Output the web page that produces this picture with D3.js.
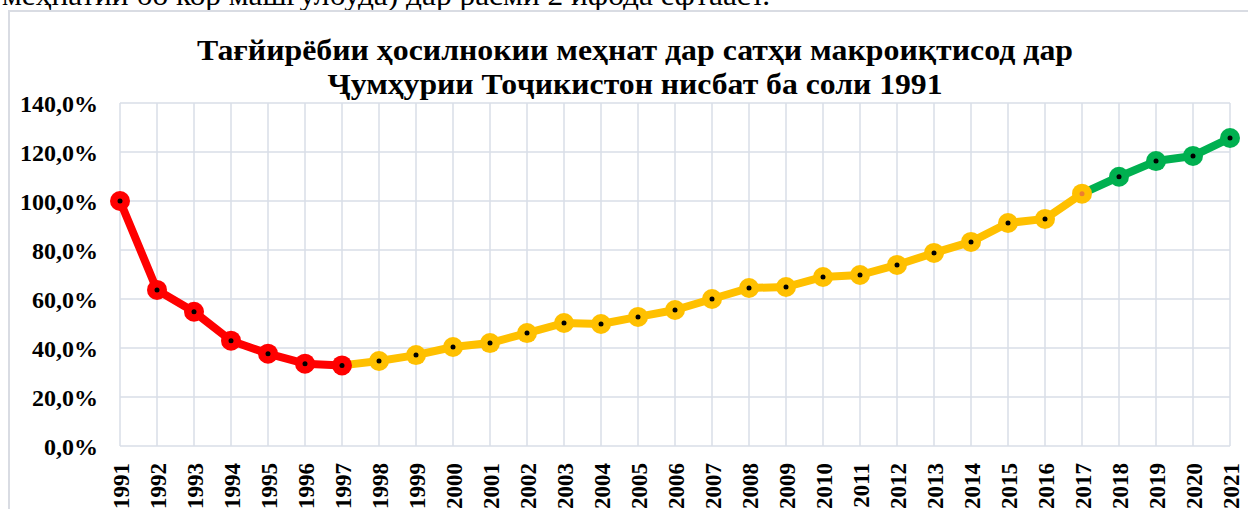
<!DOCTYPE html>
<html><head><meta charset="utf-8">
<script src="https://cdn.jsdelivr.net/npm/d3@7"></script>
<style>html,body{margin:0;padding:0;background:#fff;overflow:hidden} text{font-family:"Liberation Serif","Times New Roman",serif}</style>
</head><body>
<svg id="c" width="1248" height="509"></svg>
<script>
const years = [1991,1992,1993,1994,1995,1996,1997,1998,1999,2000,2001,2002,2003,2004,2005,2006,2007,2008,2009,2010,2011,2012,2013,2014,2015,2016,2017,2018,2019,2020,2021];
const values = [100.0,63.7,54.8,43.0,37.7,33.6,32.9,34.7,37.1,40.4,42.0,46.1,50.2,49.8,52.7,55.5,60.0,64.5,64.9,69.0,69.8,73.9,78.8,83.3,91.0,92.7,103.0,109.9,116.3,118.4,125.7];
const yTicks = [0,20,40,60,80,100,120,140];
const titleLines = ["Тағйирёбии ҳосилнокии меҳнат дар сатҳи макроиқтисод дар","Ҷумҳурии Тоҷикистон нисбат ба соли 1991"];
const topText = "меҳнатии бо кор машғулбуда) дар расми 2 ифода ёфтааст.";
// phase boundaries
const phaseStart = [1991,1997,2017];
const phaseEnd = [1997,2017,2021];
const phaseColor = ["#FF0000","#FFC000","#00B050"];

const svg = d3.select("#c");
const x = d3.scalePoint().domain(years).range([120,1230]);
const y = d3.scaleLinear().domain([0,140]).range([446,103]);
const data = years.map((yr,i)=>({yr, v: values[i]}));
const grid = "#D9DEE7";

// top partial text
svg.append("text").attr("x",2).attr("y",5).attr("font-size",30)
  .attr("textLength",768).attr("lengthAdjust","spacingAndGlyphs").attr("fill","#000").text(topText);
// chart outer border
svg.append("rect").attr("x",9).attr("y",11).attr("width",1260).attr("height",520)
  .attr("fill","#fff").attr("stroke","#D9DCE3").attr("stroke-width",2);

// title
svg.append("text").attr("x",635).attr("y",60).attr("text-anchor","middle")
  .attr("font-weight","bold").attr("font-size",29).attr("textLength",876).attr("lengthAdjust","spacingAndGlyphs").text(titleLines[0]);
svg.append("text").attr("x",635).attr("y",94).attr("text-anchor","middle")
  .attr("font-weight","bold").attr("font-size",29).attr("textLength",615).attr("lengthAdjust","spacingAndGlyphs").text(titleLines[1]);

// gridlines
svg.append("g").selectAll("line").data(yTicks).join("line")
  .attr("x1",120).attr("x2",1230).attr("y1",d=>y(d)).attr("y2",d=>y(d))
  .attr("stroke",grid).attr("stroke-width",1.5);
svg.append("g").selectAll("line").data(years).join("line")
  .attr("x1",d=>x(d)).attr("x2",d=>x(d)).attr("y1",y(0)).attr("y2",y(140))
  .attr("stroke",grid).attr("stroke-width",1.5);

// y axis labels
const yAxis = d3.axisLeft(y).tickValues(yTicks).tickSize(0).tickPadding(0)
  .tickFormat(d=>d3.format(".1f")(d).replace(".",",")+"%");
const gy = svg.append("g").attr("transform","translate(98,0)").call(yAxis);
gy.select(".domain").remove();
gy.attr("font-family",null);
gy.selectAll("text").attr("font-weight","bold").attr("font-size",24).attr("fill","#000")
  .attr("dy","0.35em").attr("x",0);

// x axis labels
const xAxis = d3.axisBottom(x).tickSize(0).tickPadding(0);
const gx = svg.append("g").attr("transform","translate(0,463)").call(xAxis);
gx.select(".domain").remove();
gx.attr("font-family",null);
gx.selectAll("text").attr("font-weight","bold").attr("font-size",23).attr("fill","#000")
  .attr("transform","rotate(-90)").attr("text-anchor","end").attr("x",0).attr("y",0).attr("dy","0.35em");

// lines
const line = d3.line().x(d=>x(d.yr)).y(d=>y(d.v));
phaseColor.forEach((c,k)=>{
  const seg = data.filter(d=>d.yr>=phaseStart[k] && d.yr<=phaseEnd[k]);
  svg.append("path").datum(seg).attr("d",line).attr("fill","none").attr("stroke",c)
    .attr("stroke-width",8).attr("stroke-linejoin","round");
});
// markers
const markerColor = d => d.yr<=phaseEnd[0] ? phaseColor[0] : (d.yr<=phaseEnd[1] ? phaseColor[1] : phaseColor[2]);
svg.append("g").selectAll("circle").data(data).join("circle")
  .attr("cx",d=>x(d.yr)).attr("cy",d=>y(d.v)).attr("r",10).attr("fill",markerColor);
svg.append("g").selectAll("circle").data(data).join("circle")
  .attr("cx",d=>x(d.yr)).attr("cy",d=>y(d.v)).attr("r",2.5)
  .attr("fill",d=>d.yr===phaseEnd[1] ? "#ED7D31" : "#000");
</script>
</body></html>
